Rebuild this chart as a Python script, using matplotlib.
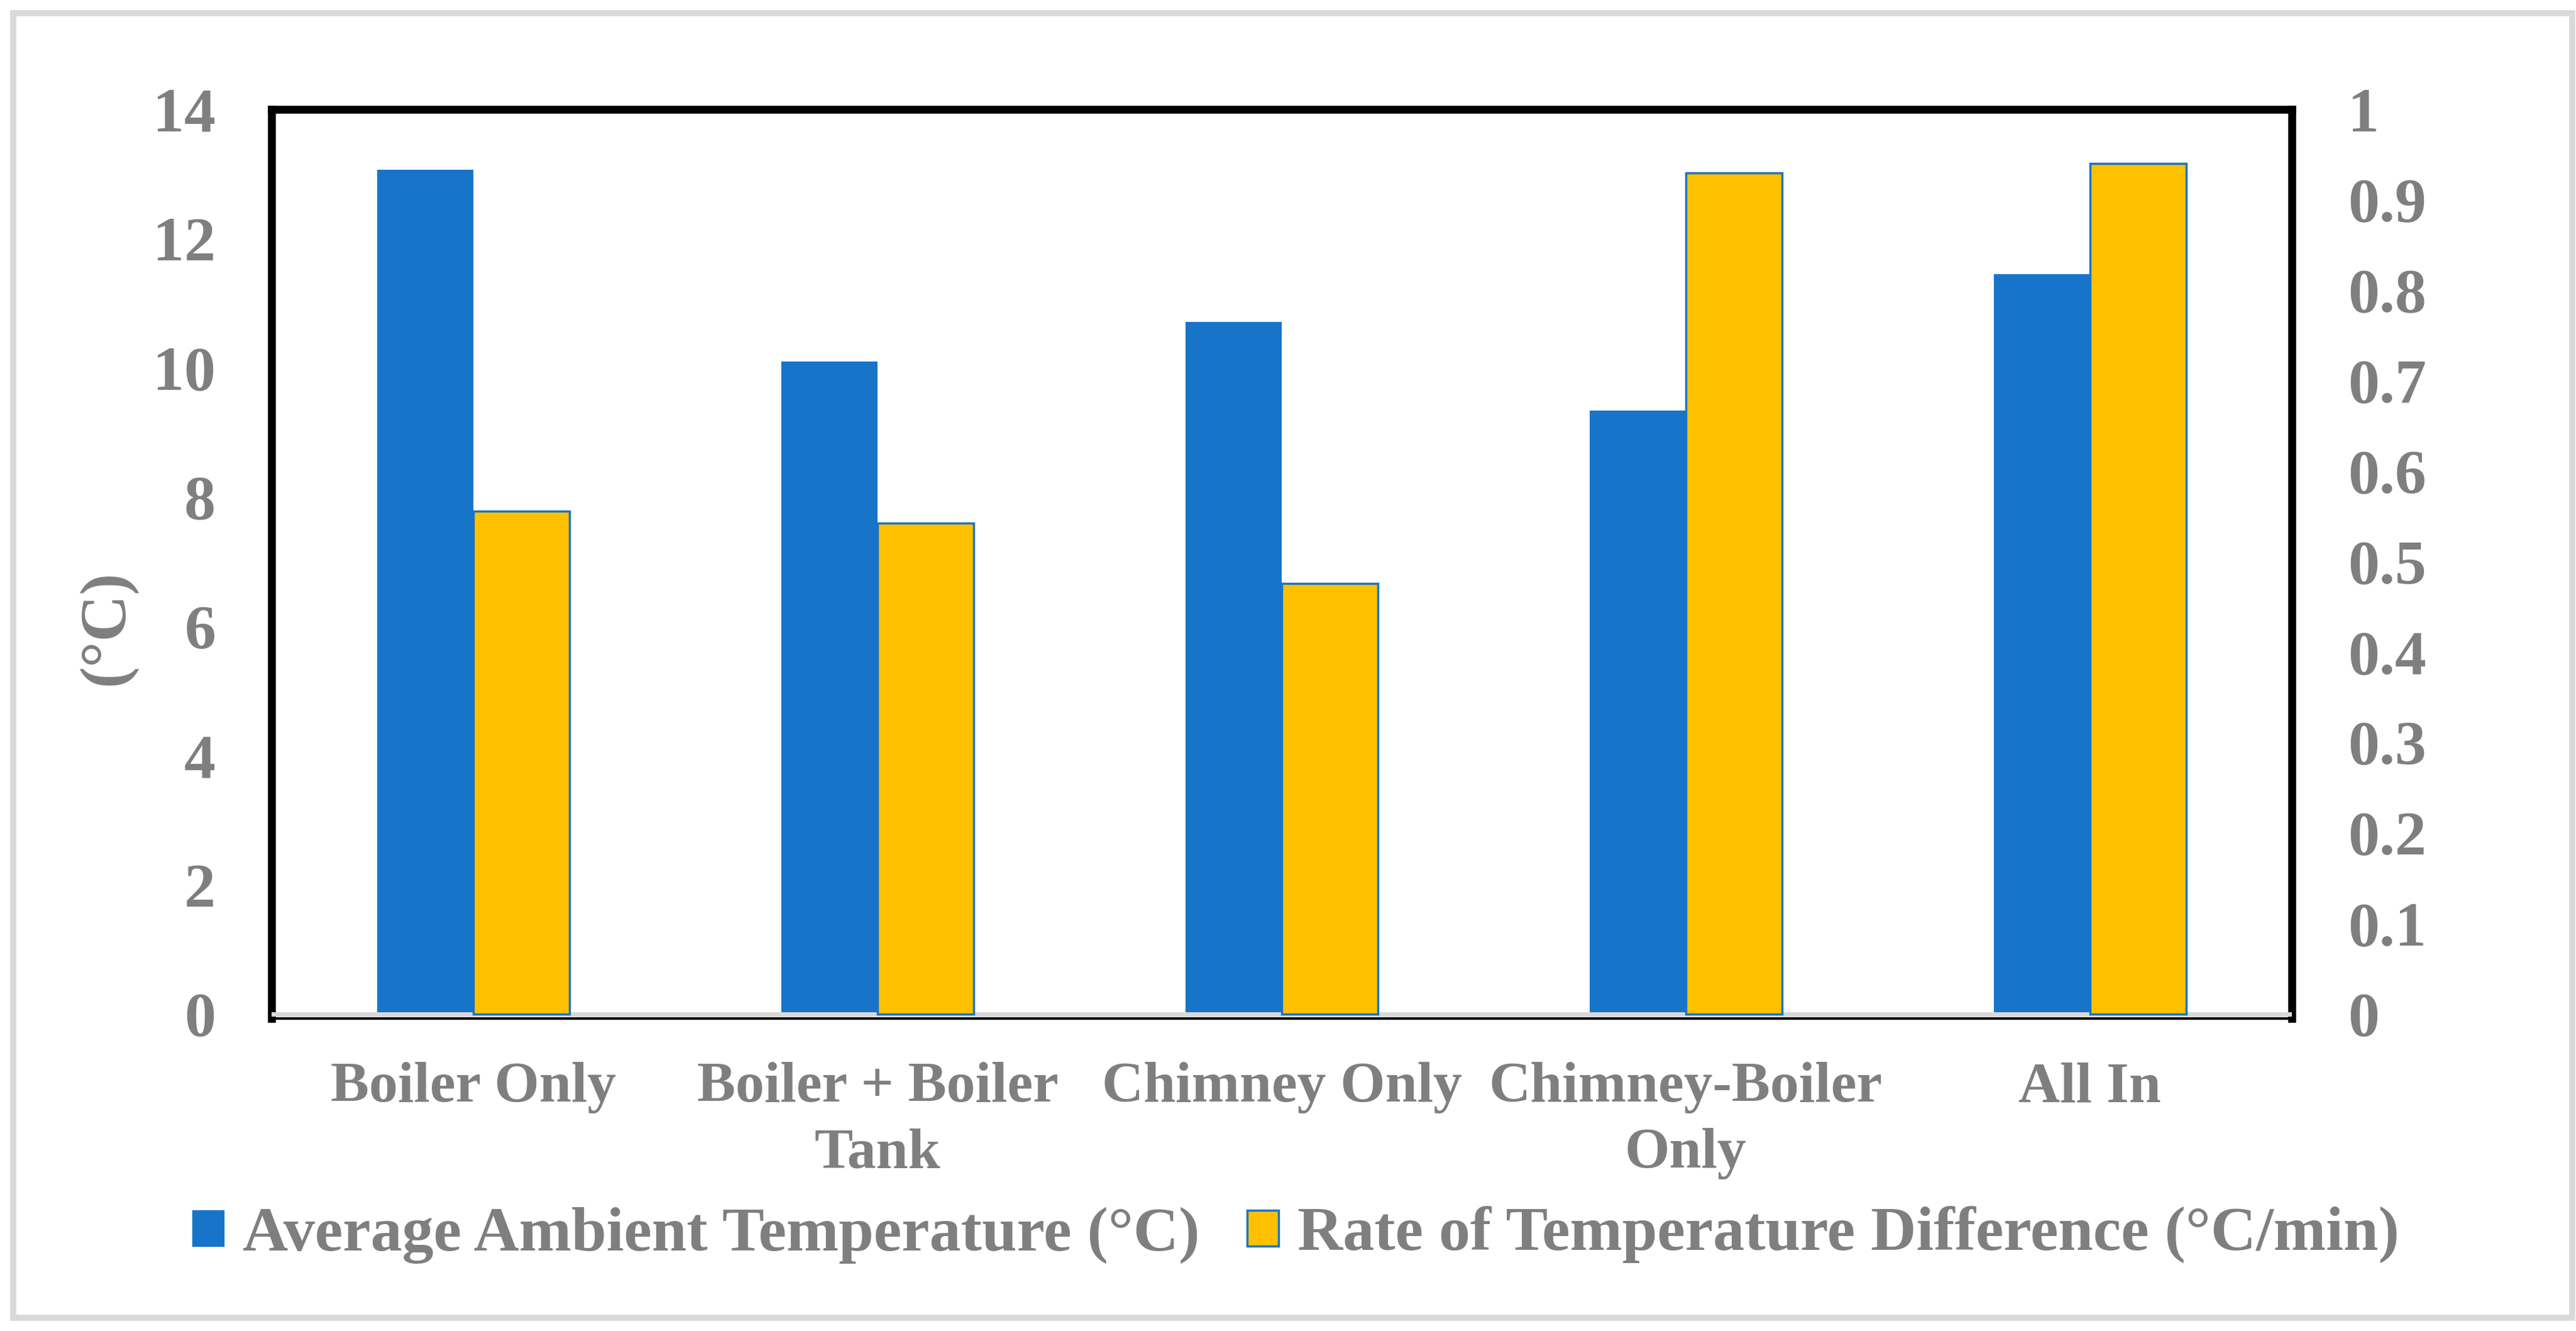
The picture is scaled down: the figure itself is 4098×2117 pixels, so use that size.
import numpy as np
import matplotlib.pyplot as plt
from matplotlib.patches import Rectangle, Patch

# data
categories = ["Boiler Only", "Boiler + Boiler\nTank", "Chimney Only",
              "Chimney-Boiler\nOnly", "All In"]
ambient_temp = [13.07, 10.10, 10.71, 9.34, 11.45]      # left axis, degC
rate_diff = [0.556, 0.543, 0.476, 0.930, 0.940]        # right axis, degC/min
left_ticks = [0, 2, 4, 6, 8, 10, 12, 14]
right_ticks = [0, 0.1, 0.2, 0.3, 0.4, 0.5, 0.6, 0.7, 0.8, 0.9, 1]
right_labels = ["0", "0.1", "0.2", "0.3", "0.4", "0.5", "0.6", "0.7", "0.8", "0.9", "1"]

blue = "#1874C8"
yellow = "#FFC000"
grey_txt = "#7F7F7F"
grey_line = "#D9D9D9"

plt.rcParams['font.family'] = ['Liberation Serif', 'DejaVu Serif']
plt.rcParams['font.weight'] = 'bold'

fig = plt.figure(figsize=(40.98, 21.17), dpi=100)
ax = fig.add_axes([0.1054, 0.2348, 0.7843, 0.6830])
ax2 = ax.twinx()

x = np.arange(len(categories))
w = 0.238
ax.bar(x - w / 2, ambient_temp, w, color=blue, zorder=2)
ax2.bar(x + w / 2, rate_diff, w, color=yellow, edgecolor=blue, linewidth=2.5, zorder=2)

ax.set_xlim(-0.5, len(categories) - 0.5)
ax.set_ylim(-0.07, 14)
ax2.set_ylim(-0.005, 1)
ax.axhline(0, color=grey_line, lw=5, zorder=3)

ax.set_yticks(left_ticks)
ax.set_yticklabels([str(t) for t in left_ticks])
ax2.set_yticks(right_ticks)
ax2.set_yticklabels(right_labels)
ax.set_xticks(x)
ax.set_xticklabels(categories, linespacing=1.36)

ax.tick_params(axis='y', length=0, pad=64, labelsize=72, labelcolor=grey_txt)
ax2.tick_params(axis='y', length=0, pad=64, labelsize=72, labelcolor=grey_txt)
ax.tick_params(axis='x', length=0, pad=50, labelsize=66, labelcolor=grey_txt)

for sp in ax.spines.values():
    sp.set_color('black')
    sp.set_linewidth(9)
ax.spines['bottom'].set_linewidth(3)
for sp in ax2.spines.values():
    sp.set_visible(False)

fig.text(170 / 4098, 1 - 998 / 2117, "(°C)", rotation=90, ha='center', va='center',
         fontsize=74, color=grey_txt, fontweight='bold')

handles = [Patch(facecolor=blue, edgecolor=blue),
           Patch(facecolor=yellow, edgecolor=blue, linewidth=2.5)]
labels = ["Average Ambient Temperature (°C)", "Rate of Temperature Difference (°C/min)"]
leg = fig.legend(handles, labels, loc='center', bbox_to_anchor=(0.503, 0.072), ncol=2,
                 frameon=False, fontsize=72, handlelength=0.5, handleheight=0.5,
                 handletextpad=0.3, columnspacing=0.75)
for t in leg.get_texts():
    t.set_color(grey_txt)

# light grey outer border
fig.patches.append(Rectangle((21 / 4098, 21 / 2117), 4071 / 4098, 2075 / 2117,
                             transform=fig.transFigure, fill=False,
                             edgecolor=grey_line, linewidth=7))

fig.savefig("out.png", dpi=100)
